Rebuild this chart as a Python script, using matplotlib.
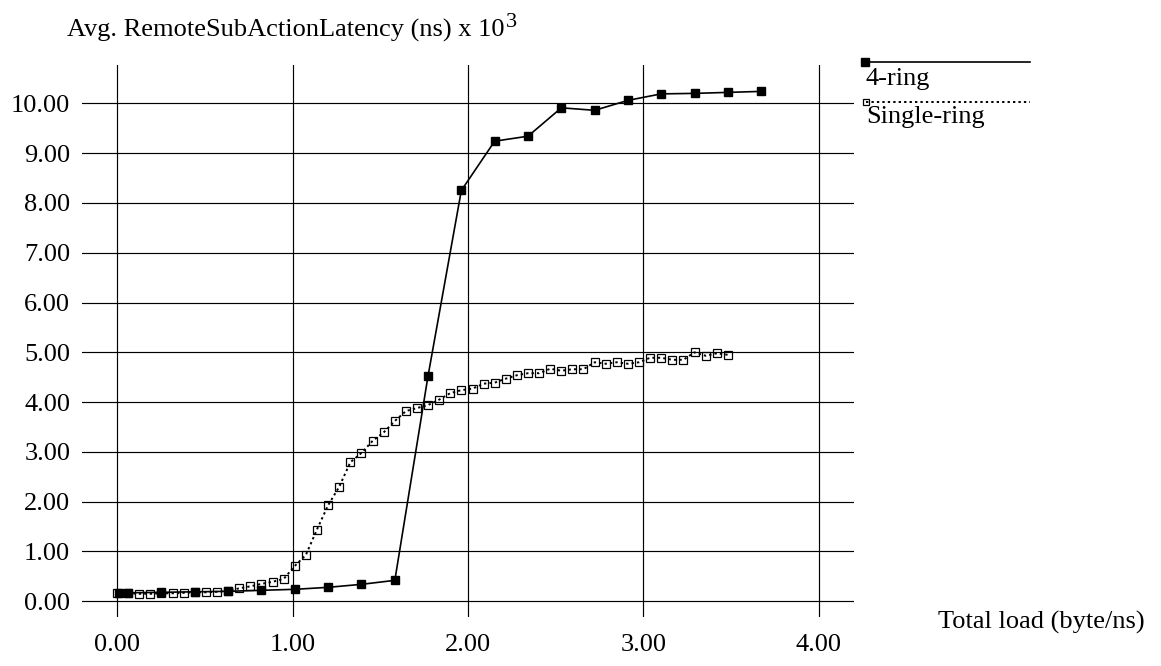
import matplotlib
matplotlib.use("Agg")
import matplotlib.pyplot as plt
from matplotlib.lines import Line2D

plt.rcParams["font.family"] = ["Liberation Serif", "DejaVu Serif"]

# ---- data -------------------------------------------------------------
four_ring_x = [0.010, 0.063, 0.253, 0.443, 0.633, 0.823, 1.013, 1.203, 1.393,
               1.583, 1.772, 1.962, 2.152, 2.342, 2.532, 2.722, 2.912, 3.101,
               3.291, 3.481, 3.671]
four_ring_y = [0.16, 0.17, 0.18, 0.19, 0.20, 0.22, 0.24, 0.28, 0.34,
               0.42, 4.52, 8.25, 9.24, 9.34, 9.91, 9.86, 10.06, 10.19,
               10.20, 10.22, 10.24]

single_ring_x = [0.000, 0.063, 0.127, 0.190, 0.253, 0.317, 0.380, 0.443,
                 0.506, 0.570, 0.633, 0.696, 0.760, 0.823, 0.886, 0.950,
                 1.013, 1.076, 1.139, 1.203, 1.266, 1.329, 1.393, 1.456,
                 1.519, 1.583, 1.646, 1.709, 1.772, 1.836, 1.899, 1.962,
                 2.026, 2.089, 2.152, 2.215, 2.279, 2.342, 2.405, 2.469,
                 2.532, 2.595, 2.658, 2.722, 2.785, 2.848, 2.912, 2.975,
                 3.038, 3.101, 3.165, 3.228, 3.291, 3.355, 3.418, 3.481]
single_ring_y = [0.16, 0.16, 0.15, 0.15, 0.16, 0.16, 0.17, 0.18,
                 0.18, 0.19, 0.21, 0.26, 0.30, 0.35, 0.39, 0.45,
                 0.71, 0.93, 1.44, 1.93, 2.30, 2.79, 2.98, 3.22,
                 3.39, 3.62, 3.82, 3.88, 3.94, 4.05, 4.18, 4.24,
                 4.27, 4.37, 4.39, 4.47, 4.54, 4.58, 4.58, 4.67,
                 4.63, 4.66, 4.66, 4.80, 4.77, 4.80, 4.77, 4.80,
                 4.89, 4.89, 4.85, 4.85, 5.00, 4.93, 4.98, 4.95]

x_ticks = [0, 1, 2, 3, 4]
x_tick_labels = ["0.00", "1.00", "2.00", "3.00", "4.00"]
y_ticks = list(range(11))
y_tick_labels = ["%.2f" % v for v in y_ticks]

series_names = ["4-ring", "Single-ring"]
title_text = "Avg. RemoteSubActionLatency (ns) x 10"
title_exp = "3"
x_title = "Total load (byte/ns)"

# ---- figure -----------------------------------------------------------
W, H = 1161, 666
FS = 19
fig = plt.figure(figsize=(W / 100, H / 100), dpi=100)
fig.patch.set_facecolor("white")

def fx(px):
    return px / W

def fy(py):
    return 1 - py / H

ax = fig.add_axes([fx(82), fy(617.2), fx(854) - fx(82), fy(65) - fy(617.2)])
ax.set_xlim(-0.2, 4.2)
ax.set_ylim(-0.32, 10.77)
for s in ax.spines.values():
    s.set_visible(False)
ax.set_xticks(x_ticks)
ax.set_xticklabels(x_tick_labels)
ax.set_yticks(y_ticks)
ax.set_yticklabels(y_tick_labels)
ax.tick_params(axis="x", length=0, pad=12, labelsize=FS)
ax.tick_params(axis="y", length=0, pad=8.5, labelsize=FS)
ax.set_axisbelow(True)
ax.grid(True, color="black", linewidth=0.85)

line_kw = dict(color="black", markersize=6)
ax.plot(four_ring_x, four_ring_y, linestyle="-", linewidth=1.2,
        marker="s", markerfacecolor="black", markeredgecolor="black", **line_kw)
ax.plot(single_ring_x, single_ring_y, linestyle=(0, (1.2, 1.6)), linewidth=1.4,
        marker="s", markerfacecolor="none", markeredgecolor="black",
        markeredgewidth=0.9, **line_kw)

# titles
t = fig.text(fx(67), fy(36.7), title_text, fontsize=FS, va="baseline", ha="left")
fig.canvas.draw()
bb = t.get_window_extent()
fig.text(bb.x1 / W + fx(1), fy(36.7 - 10), title_exp, fontsize=FS * 0.85,
         va="baseline", ha="left")
fig.text(fx(938), fy(628.3), x_title, fontsize=FS, va="baseline", ha="left")

# legend
fig.add_artist(Line2D([fx(865), fx(1030)], [fy(62.3), fy(62.3)], color="black",
                      linewidth=1.2, marker="s", markevery=[0], markersize=6,
                      markerfacecolor="black", markeredgecolor="black"))
fig.add_artist(Line2D([fx(866), fx(1030)], [fy(101.5), fy(101.5)], color="black",
                      linewidth=1.4, linestyle=(0, (1.2, 1.6)), marker="s",
                      markevery=[0], markersize=5, markerfacecolor="none",
                      markeredgecolor="black", markeredgewidth=0.9))
fig.text(fx(866), fy(85), series_names[0], fontsize=FS, va="baseline", ha="left")
fig.text(fx(866), fy(123), series_names[1], fontsize=FS, va="baseline", ha="left")

fig.savefig("out.png", dpi=100, facecolor="white")
